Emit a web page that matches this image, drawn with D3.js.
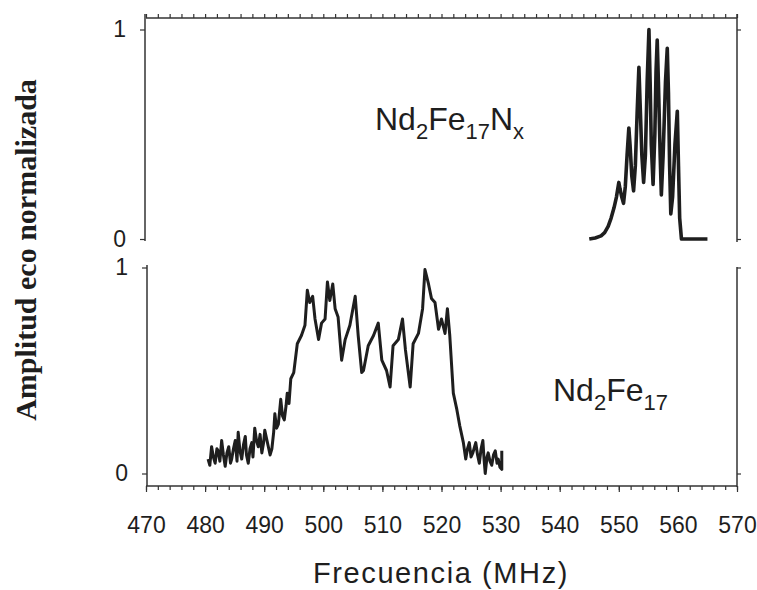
<!DOCTYPE html>
<html>
<head>
<meta charset="utf-8">
<script src="https://cdn.jsdelivr.net/npm/d3@7"></script>
<style>
  body { margin: 0; background: #fff; }
  svg { display: block; }
</style>
</head>
<body>
<svg id="chart" width="757" height="590"></svg>
<script>
// Nd2Fe17Nx spectrum (top panel)
var topFreq = [545.0, 546.0, 547.0, 547.6, 548.2, 548.7, 549.2, 549.6, 550.0, 550.2, 550.5, 550.8,
  551.1, 551.4, 551.7, 551.9, 552.2, 552.5, 552.8, 553.1, 553.4, 553.6, 553.9, 554.2, 554.5,
  554.8, 555.1, 555.3, 555.5, 555.8, 556.1, 556.3, 556.5, 556.7, 557.0, 557.2, 557.5, 557.9,
  558.2, 558.4, 558.6, 558.8, 559.1, 559.5, 559.9, 560.1, 560.3, 560.6, 562.0, 565.0];
var topAmp = [0, 0.005, 0.015, 0.03, 0.06, 0.10, 0.15, 0.20, 0.27, 0.24, 0.20, 0.17,
  0.25, 0.40, 0.53, 0.45, 0.30, 0.23, 0.35, 0.60, 0.82, 0.65, 0.40, 0.27, 0.40,
  0.75, 1.0, 0.75, 0.45, 0.26, 0.50, 0.80, 0.95, 0.75, 0.40, 0.21, 0.40, 0.75,
  0.91, 0.70, 0.35, 0.12, 0.20, 0.45, 0.61, 0.35, 0.10, 0, 0, 0];

// Nd2Fe17 spectrum (bottom panel)
var botFreq = [480.5, 480.8, 481.1, 481.4, 481.7, 482.0, 482.2, 482.5, 482.8, 483.1, 483.4, 483.7,
  484.0, 484.3, 484.5, 484.8, 485.1, 485.4, 485.6, 485.9, 486.2, 486.5, 486.8, 487.0, 487.3,
  487.6, 487.9, 488.1, 488.4, 488.7, 489.0, 489.3, 489.6, 489.9, 490.1, 490.4, 490.7, 491.0,
  491.3, 491.6, 491.8, 492.1, 492.4, 492.8, 493.1, 493.4, 493.7, 493.9, 494.2, 494.5, 495.0,
  495.6, 496.3, 496.9, 497.3, 497.7, 498.2, 498.6, 499.2, 499.7, 500.3, 500.7, 501.1, 501.6,
  502.0, 502.5, 503.1, 503.7, 504.5, 505.4, 505.9, 506.5, 506.8, 507.6, 508.5, 509.3, 509.9,
  510.7, 511.3, 511.8, 512.7, 513.4, 513.9, 514.7, 515.2, 516.1, 516.8, 517.2, 517.8, 518.3,
  518.9, 519.5, 520.0, 520.6, 521.0, 521.4, 522.0, 522.6, 523.1, 523.7, 524.1, 524.4, 524.7,
  525.0, 525.3, 525.6, 525.8, 526.1, 526.4, 526.7, 527.0, 527.2, 527.4, 527.7, 527.9, 528.2,
  528.5, 528.8, 529.1, 529.4, 529.6, 529.9, 530.2, 530.2];
var botAmp = [0.07, 0.04, 0.13, 0.08, 0.05, 0.12, 0.11, 0.06, 0.16, 0.09, 0.035, 0.10,
  0.13, 0.05, 0.07, 0.12, 0.16, 0.06, 0.20, 0.11, 0.07, 0.14, 0.18, 0.09, 0.05,
  0.12, 0.15, 0.08, 0.22, 0.16, 0.13, 0.19, 0.10, 0.15, 0.21, 0.17, 0.13, 0.09,
  0.12, 0.20, 0.29, 0.22, 0.24, 0.36, 0.28, 0.26, 0.33, 0.39, 0.34, 0.46, 0.49,
  0.63, 0.67, 0.72, 0.89, 0.83, 0.86, 0.75, 0.65, 0.73, 0.75, 0.93, 0.84, 0.92,
  0.80, 0.76, 0.55, 0.65, 0.72, 0.86, 0.67, 0.49, 0.50, 0.62, 0.67, 0.73, 0.55,
  0.50, 0.42, 0.62, 0.65, 0.75, 0.60, 0.42, 0.63, 0.68, 0.80, 0.99, 0.92, 0.85,
  0.83, 0.70, 0.75, 0.68, 0.80, 0.67, 0.39, 0.31, 0.23, 0.15, 0.07, 0.12, 0.15,
  0.08, 0.10, 0.13, 0.15, 0.09, 0.05, 0.12, 0.16, 0.07, 0.0, 0.08, 0.10, 0.06,
  0.04, 0.09, 0.11, 0.05, 0.07, 0.03, 0.02, 0.11];

var xTicks = [470, 480, 490, 500, 510, 520, 530, 540, 550, 560, 570];
var yTicks = [0, 1];

var svg = d3.select('#chart');
var ink = '#1e1e1e';
var sans = 'Liberation Sans, Arial, sans-serif';

var x = d3.scaleLinear().domain([470, 570]).range([146, 737]);
var yTop = d3.scaleLinear().domain([0, 1]).range([239, 29.5]);
var yBot = d3.scaleLinear().domain([0, 1]).range([473.5, 267.5]);

var minor = d3.range(470, 571, 2);

// bottom axis
svg.append('g')
  .attr('transform', 'translate(0,486)')
  .call(d3.axisBottom(x).tickValues(minor).tickSize(4).tickFormat(''))
  .call(function(g) { g.select('.domain').remove(); g.selectAll('text').remove(); });
svg.append('g')
  .attr('transform', 'translate(0,486)')
  .call(d3.axisBottom(x).tickValues(xTicks).tickSize(6).tickPadding(25).tickFormat(d3.format('d')))
  .call(function(g) { g.select('.domain').attr('d', 'M146,0H737'); });

// top border with small ticks
svg.append('g')
  .attr('transform', 'translate(0,18)')
  .call(d3.axisTop(x).tickValues(minor).tickSize(4).tickFormat(''))
  .call(function(g) { g.select('.domain').attr('d', 'M146,0H737'); g.selectAll('text').remove(); });

// left axes
svg.append('g')
  .attr('transform', 'translate(145,0)')
  .call(d3.axisLeft(yTop).tickValues(yTicks).tickSize(5).tickPadding(14).tickFormat(d3.format('d')))
  .call(function(g) { g.select('.domain').attr('d', 'M0,14V241'); });
svg.append('g')
  .attr('transform', 'translate(147,0)')
  .call(d3.axisLeft(yBot).tickValues(yTicks).tickSize(5).tickPadding(14).tickFormat(d3.format('d')))
  .call(function(g) { g.select('.domain').attr('d', 'M0,265V486'); });

// right axes
svg.append('g')
  .attr('transform', 'translate(737,0)')
  .call(d3.axisRight(yTop).tickValues(yTicks).tickSize(4).tickFormat(''))
  .call(function(g) { g.select('.domain').attr('d', 'M0,14V242'); g.selectAll('text').remove(); });
svg.append('g')
  .attr('transform', 'translate(737,0)')
  .call(d3.axisRight(yBot).tickValues(yTicks).tickSize(4).tickFormat(''))
  .call(function(g) { g.select('.domain').attr('d', 'M0,267V487'); g.selectAll('text').remove(); });

svg.selectAll('.domain').attr('stroke', '#333').attr('stroke-width', 1.5);
svg.selectAll('.tick line').attr('stroke', '#333').attr('stroke-width', 1.2);
svg.selectAll('.tick text').attr('font-size', 23).attr('font-family', sans).attr('fill', ink);

// spectra
var lineTop = d3.line().x(function(d) { return x(d[0]); }).y(function(d) { return yTop(d[1]); });
var lineBot = d3.line().x(function(d) { return x(d[0]); }).y(function(d) { return yBot(d[1]); });

svg.append('path')
  .datum(d3.zip(topFreq, topAmp))
  .attr('d', lineTop)
  .attr('fill', 'none').attr('stroke', ink).attr('stroke-width', 3.6).attr('stroke-linejoin', 'round');

svg.append('path')
  .datum(d3.zip(botFreq, botAmp))
  .attr('d', lineBot)
  .attr('fill', 'none').attr('stroke', ink).attr('stroke-width', 3).attr('stroke-linejoin', 'round');

// compound labels, subscripts shifted down with dy
function formula(xPos, yPos, parts) {
  var t = svg.append('text')
    .attr('x', xPos).attr('y', yPos)
    .attr('font-family', sans)
    .attr('font-size', 32).attr('fill', ink);
  var down = false;
  parts.forEach(function(p) {
    var span = t.append('tspan').text(p.s);
    if (p.sub) {
      span.attr('font-size', 22);
      if (!down) span.attr('dy', 9);
      down = true;
    } else {
      span.attr('font-size', 32);
      if (down) span.attr('dy', -9);
      down = false;
    }
  });
}
formula(375, 130, [{s: 'Nd'}, {s: '2', sub: true}, {s: 'Fe'}, {s: '17', sub: true}, {s: 'N'}, {s: 'x', sub: true}]);
formula(553, 401, [{s: 'Nd'}, {s: '2', sub: true}, {s: 'Fe'}, {s: '17', sub: true}]);

// axis titles
svg.append('text')
  .attr('x', 441).attr('y', 583)
  .attr('text-anchor', 'middle')
  .attr('font-family', sans)
  .attr('font-size', 29).attr('letter-spacing', 1.6).attr('fill', ink)
  .text('Frecuencia (MHz)');

svg.append('text')
  .attr('transform', 'translate(36,250) rotate(-90)')
  .attr('text-anchor', 'middle')
  .attr('font-family', 'Liberation Serif, Times New Roman, serif')
  .attr('font-weight', 'bold')
  .attr('font-size', 30).attr('fill', ink)
  .text('Amplitud eco normalizada');
</script>
</body>
</html>
